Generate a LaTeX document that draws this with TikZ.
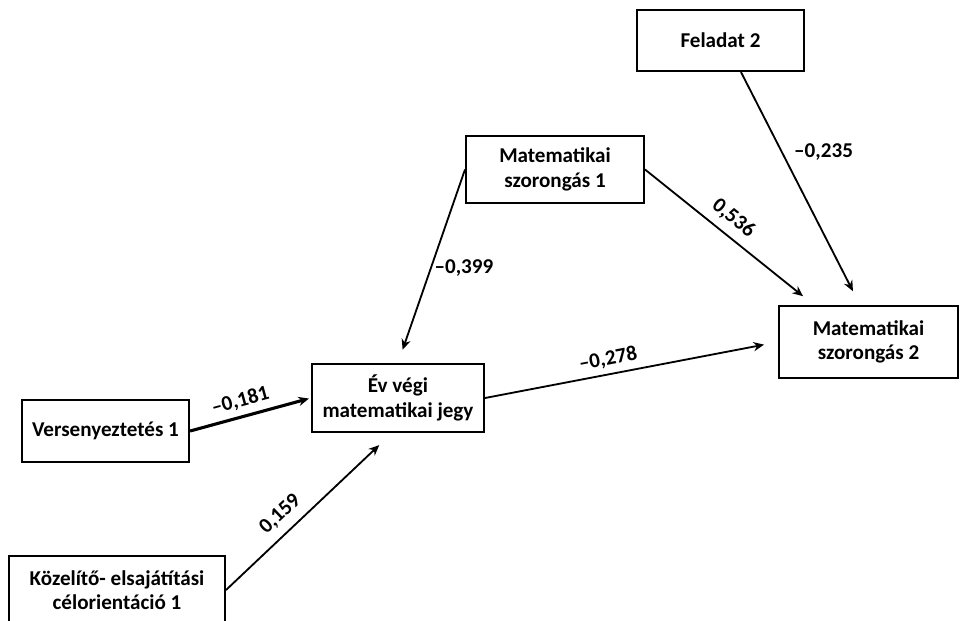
\documentclass[tikz,border=0pt]{standalone}
\usepackage{fontspec}
\setmainfont{Carlito}
\usepackage{tikz}
\usetikzlibrary{calc,arrows.meta}

\tikzset{
  varbox/.style={draw, line width=1.4pt, align=center, inner sep=0pt,
    font=\fontsize{15}{17.5}\selectfont\bfseries},
  effect/.style={->, line width=1.3pt},
  coef/.style={font=\fontsize{15}{17.5}\selectfont\bfseries, inner sep=2pt}
}

\begin{document}
\begin{tikzpicture}[x=0.025cm, y=-0.025cm, >={Stealth[length=7.5pt, width=6.5pt]}]
  \clip (0,0) rectangle (960,620);
  \useasboundingbox (0,0) rectangle (960,620);
  % ---- variables ----
  \node[varbox, minimum width=4.18cm, minimum height=1.53cm] (feladat) at (720.5,40.5) {Feladat 2};
  \node[varbox, minimum width=4.45cm, minimum height=1.68cm] (szor1) at (555,169.5) {Matematikai\\ szorongás 1};
  \node[varbox, minimum width=4.48cm, minimum height=1.80cm] (szor2) at (868.5,342) {Matematikai\\ szorongás 2};
  \node[varbox, minimum width=4.30cm, minimum height=1.70cm] (jegy) at (398,398) {Év végi\\ matematikai jegy};
  \node[varbox, minimum width=4.18cm, minimum height=1.55cm] (verseny) at (105.5,431) {Versenyeztetés 1};
  \node[varbox, minimum width=5.40cm, minimum height=1.70cm] (kozelito) at (117,590) {Közelítő- elsajátítási\\ célorientáció 1};
  % ---- paths ----
  \draw[effect, line width=2.2pt, shorten >=1.5pt] (verseny.east) -- (jegy.west)
    node[coef, pos=0.45, sloped, above=2pt] {--0,181};
  \draw[effect, shorten >=12.5pt] (kozelito.east) -- ($(jegy.south)+(-6,0)$)
    node[coef, pos=0.40, sloped, above=4pt] {0,159};
  \draw[effect, shorten >=10pt] (szor1.west) -- (jegy.north)
    node[coef, pos=0.51, right=0pt] {--0,399};
  \draw[effect, shorten >=10pt] (szor1.east) -- ($(szor2.north)+(-54.5,0)$)
    node[coef, pos=0.46, sloped, above=3.5pt] {0,536};
  \draw[effect, shorten >=11pt] ($(feladat.south)+(20.5,0)$) -- ($(szor2.north)+(-8.5,0)$)
    node[coef, pos=0.345, right=6pt] {--0,235};
  \draw[effect, shorten >=10pt] (jegy.east) -- (szor2.west)
    node[coef, pos=0.43, sloped, above=2pt] {--0,278};
\end{tikzpicture}
\end{document}
